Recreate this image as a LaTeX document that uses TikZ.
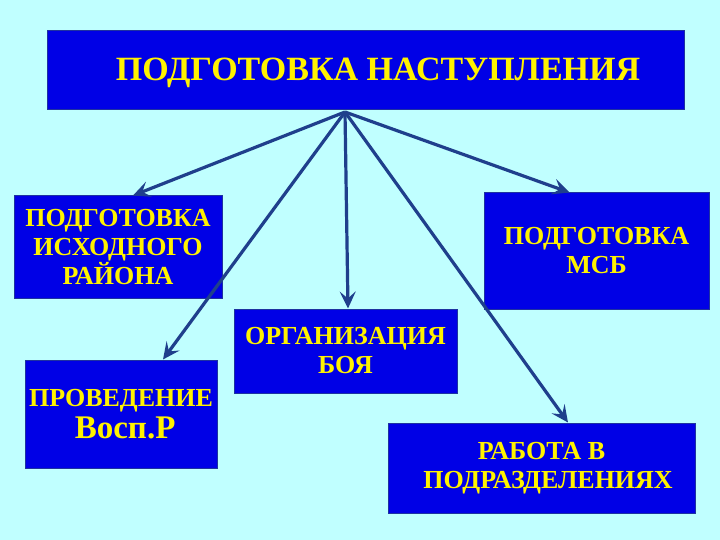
\documentclass[tikz,border=0pt]{standalone}
\usepackage{fontspec}
\setmainfont{Liberation Serif}
\usetikzlibrary{arrows.meta,positioning}
\definecolor{bgcyan}{RGB}{192,255,255}
\definecolor{boxblue}{RGB}{0,0,230}
\definecolor{edgeblue}{RGB}{30,50,160}
\definecolor{arrowblue}{RGB}{31,63,140}
\begin{document}
\begin{tikzpicture}[x=1pt, y=-1pt,
    box/.style={rectangle, draw=edgeblue, line width=1pt, fill=boxblue, text=yellow, align=center, inner sep=0pt, font=\fontsize{26}{29}\selectfont\bfseries},
    arrow/.style={-{Stealth[length=17pt,width=16pt,inset=7pt]}, line width=3.2pt, draw=arrowblue}
]
\fill[bgcyan] (0,0) rectangle (720,540);
\useasboundingbox (0,0) rectangle (720,540);

\node[box, minimum width=637, minimum height=79] (top) at (365.5,70.5) {};
\node[text=yellow, font=\fontsize{34}{40}\selectfont\bfseries] (title) at (378,73) {ПОДГОТОВКА НАСТУПЛЕНИЯ};

\node[box, minimum width=208, minimum height=102] (start) at (118,247) {ПОДГОТОВКА\\ИСХОДНОГО\\РАЙОНА};
\node[box, minimum width=225, minimum height=116] (msb) at (596.5,251) {ПОДГОТОВКА\\МСБ};
\node[box, minimum width=223, minimum height=84] (battle) at (345.5,351) {ОРГАНИЗАЦИЯ\\БОЯ};
\node[box, minimum width=192, minimum height=108] (cross) at (121,414) {ПРОВЕДЕНИЕ\\[3pt]{\fontsize{33}{36}\selectfont\ Восп.Р}};
\node[box, minimum width=307, minimum height=90] (units) at (541.5,468) {РАБОТА В\\\ \ ПОДРАЗДЕЛЕНИЯХ};

\coordinate (hub) at (345,112);
\draw[arrow] (hub) -- ([xshift=15]start.north);
\draw[arrow] (hub) -- ([xshift=42]cross.north);
\draw[arrow] (hub) -- ([xshift=2.5]battle.north);
\draw[arrow] (hub) -- ([xshift=-27]msb.north);
\draw[arrow] (hub) -- ([xshift=26.5]units.north);
\end{tikzpicture}
\end{document}
